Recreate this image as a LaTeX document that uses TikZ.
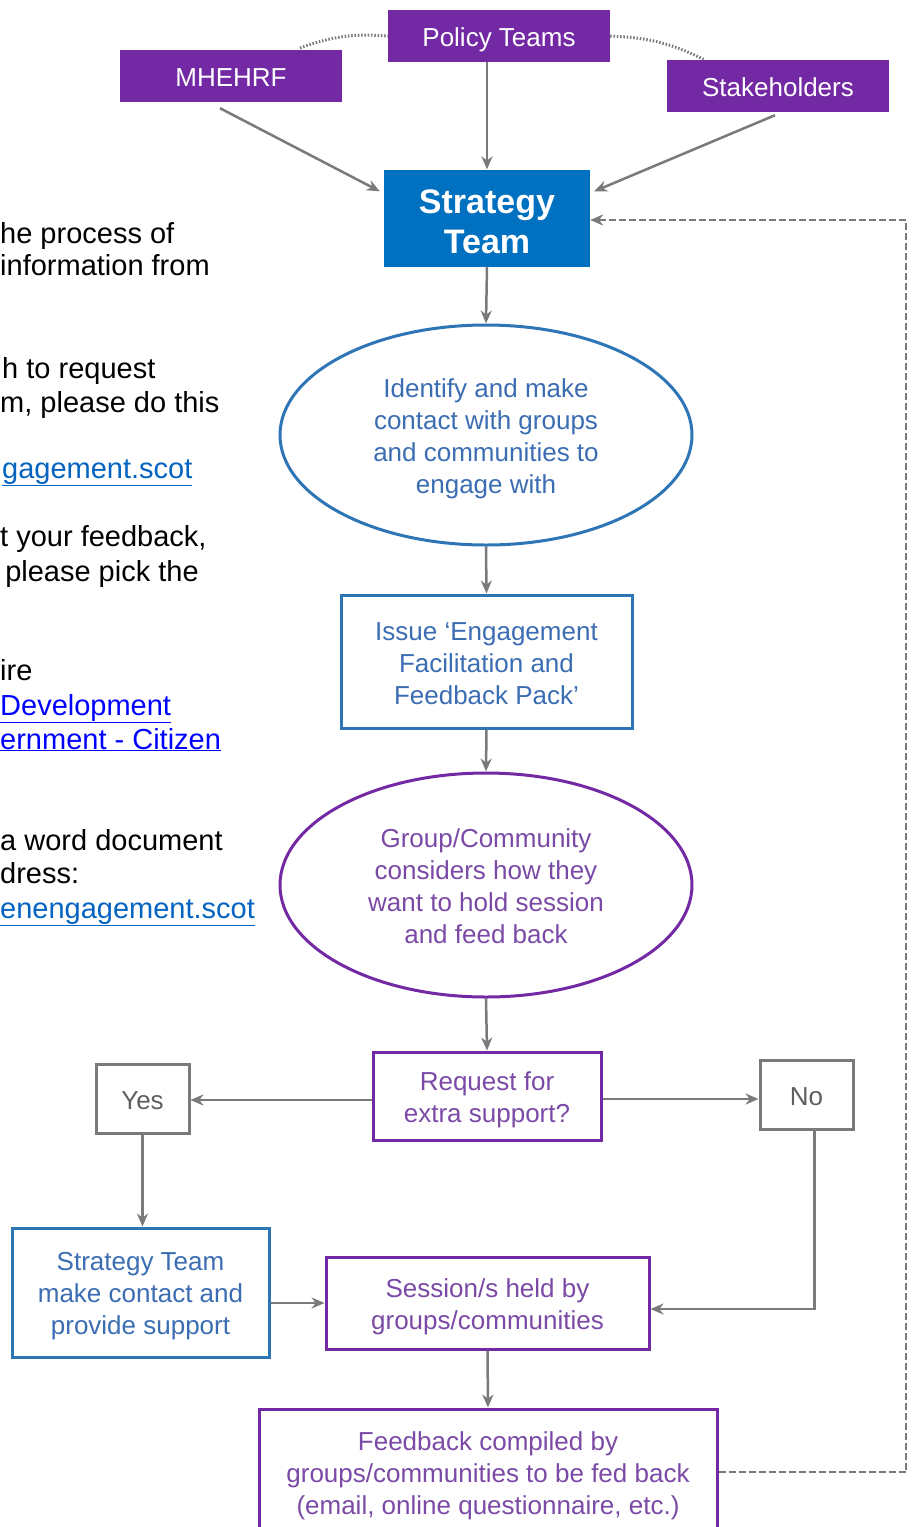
\documentclass[tikz,border=0pt]{standalone}
\usepackage{fontspec}
\setmainfont{Liberation Sans}
\usetikzlibrary{shapes.geometric,arrows.meta,calc}
\definecolor{purpF}{HTML}{7328A4}
\definecolor{blueF}{HTML}{0070C0}
\definecolor{blueL}{HTML}{2E75B6}
\definecolor{blueT}{HTML}{3B6DB3}
\definecolor{purpT}{HTML}{7A4AA6}
\definecolor{arrG}{HTML}{7A7A7A}
\definecolor{grayT}{HTML}{5F5F5F}
\definecolor{linkA}{HTML}{0563C1}
\definecolor{linkB}{HTML}{0000FF}
\newcommand\tT{\rule{0pt}{26pt}}
\newcommand\tB{\rule[-4.5pt]{0pt}{4.5pt}}
\tikzset{
  txt/.style={font=\fontsize{26}{32}\selectfont, align=center},
  topbox/.style={txt, fill=purpF, text=white, inner sep=0pt, minimum width=222pt, minimum height=52pt},
  bluebox/.style={txt, draw=blueL, line width=3pt, text=blueT, inner sep=0pt},
  purpbox/.style={txt, draw=purpF, line width=3pt, text=purpT, inner sep=0pt},
  graybox/.style={txt, draw=arrG, line width=3pt, text=grayT, inner sep=0pt, minimum width=93pt, minimum height=69pt},
  ell/.style={ellipse, inner sep=0pt, minimum width=412pt},
  arr/.style={draw=arrG, line width=2.5pt, -{Stealth[length=13pt,width=11pt]}},
  dsh/.style={draw=arrG, line width=2.2pt, dash pattern=on 7pt off 3pt, -{Stealth[length=13pt,width=11pt]}},
  dots/.style={draw=arrG, line width=3pt, dash pattern=on 1.5pt off 1.8pt},
  lt/.style={font=\fontsize{29}{33}\selectfont, anchor=base west, inner sep=0pt, text=black},
}
\begin{document}
\begin{tikzpicture}[x=1pt,y=-1pt]
\fill[white] (0,0) rectangle (915,1527);
\useasboundingbox (0,0) rectangle (915,1527);

% left side text (cropped paragraph)
\node[lt] (l1) at (0,243) {he process of};
\node[lt] (l2) at (0,275) {information from};
\node[lt] (l3) at (2,378) {h to request};
\node[lt] (l4) at (0,412) {m, please do this};
\node[lt, text=linkA] (l5) at (2,478) {\underline{gagement.scot}};
\node[lt] (l6) at (0,546) {t your feedback,};
\node[lt] (l7) at (-3,581) {\ please pick the};
\node[lt] (l8) at (0,680) {ire};
\node[lt, text=linkB] (l9) at (0,715) {\underline{Development}};
\node[lt, text=linkB] (l10) at (0,749) {\underline{ernment - Citizen}};
\node[lt] (l11) at (0,850) {a word document};
\node[lt] (l12) at (0,883) {dress:};
\node[lt, text=linkA] (l13) at (0,918) {\underline{enengagement.scot}};

% top boxes
\node[topbox] (policy) at (499,36) {\tT Policy Teams\tB};
\node[topbox] (mhehrf) at (231,76) {\tT MHEHRF\tB};
\node[topbox] (stake) at (778,86) {\tT Stakeholders\tB};
\node[fill=blueF, text=white, inner sep=0pt, minimum width=206pt, minimum height=97pt,
      font=\bfseries\fontsize{34}{40}\selectfont, align=center] (strat) at (487,218) {\rule{0pt}{32pt}Strategy\\Team};

% dotted links
\coordinate (d1) at (300,48);
\coordinate (d2) at (705,60);
\draw[dots] (d1) to[bend left=12] (policy.west);
\draw[dots] (policy.east) to[bend left=12] (d2);

% main flow
\node[bluebox, ell, minimum height=220pt] (ell1) at (486,435) {\tT Identify and make\\contact with groups\\and communities to\\engage with\tB};
\node[bluebox, minimum width=291pt, minimum height=133pt] (issue) at (486.5,661.5) {\tT Issue `Engagement\\Facilitation and\\Feedback Pack'\tB};
\node[purpbox, ell, minimum height=224pt] (ell2) at (486,885) {\tT Group/Community\\considers how they\\want to hold session\\and feed back\tB};
\node[purpbox, minimum width=228pt, minimum height=88pt] (req) at (487,1096) {\tT Request for\\extra support?\tB};
\node[graybox] (yes) at (142.5,1098.5) {\tT Yes\tB};
\node[graybox] (no) at (806.5,1094.5) {\tT No\tB};
\node[bluebox, minimum width=257pt, minimum height=129pt] (stc) at (140.5,1292.5) {\tT Strategy Team\\make contact and\\provide support\tB};
\node[purpbox, minimum width=323pt, minimum height=92pt] (sess) at (487.5,1303) {\tT Session/s held by\\groups/communities\tB};
\begin{scope}
\clip (0,0) rectangle (915,1527);
\node[purpbox, minimum width=458pt, minimum height=126pt] (fb) at (488,1472) {\tT Feedback compiled by\\groups/communities to be fed back\\(email, online questionnaire, etc.)\tB};
\end{scope}

% arrows
\draw[arr] ($(mhehrf.south)+(-11,6)$) -- ($(strat.north west)+(-4,22)$);
\draw[arr] (policy.south -| strat.north) -- (strat.north);
\draw[arr] ($(stake.south)+(-3,3)$) -- ($(strat.north east)+(4,22)$);
\draw[arr] (strat.south) -- (ell1.north);
\draw[arr] (ell1.south) -- (issue.north);
\draw[arr] (issue.south) -- (ell2.north);
\draw[arr] (ell2.south) -- (req.north);
\draw[arr] ($(req.west)+(0,4)$) -- ($(req.west -| yes.east)+(0,4)$);
\draw[arr] ($(req.east)+(0,3)$) -- ($(req.east -| no.west)+(0,3)$);
\draw[arr] (yes.south) -- (yes.south |- stc.north);
\draw[arr] (sess.west -| stc.east) -- (sess.west);
\coordinate (nob) at ($(no.south)+(8,0)$);
\draw[arr] (nob) |- ($(sess.east)+(0,6)$);
\draw[arr] (sess.south) -- (fb.north);
\coordinate (rt) at (906,800);
\draw[dsh] (fb.east) -| (rt) |- ($(strat.east)+(0,2)$);
\end{tikzpicture}
\end{document}
